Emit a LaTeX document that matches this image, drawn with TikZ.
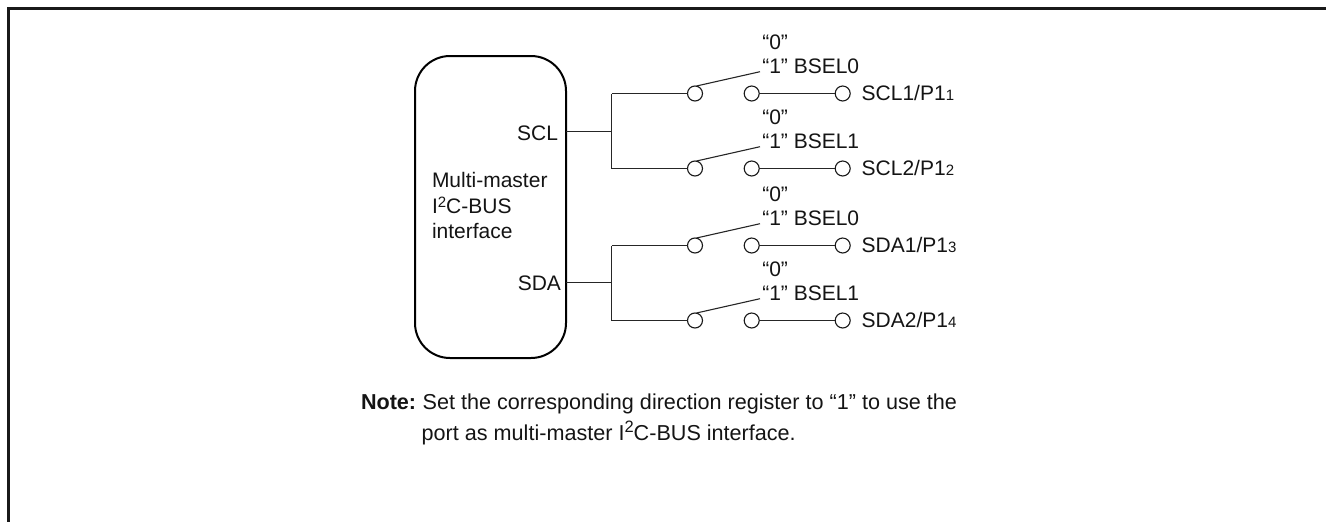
\documentclass[tikz,border=0pt]{standalone}
\usepackage{fontspec}
\setmainfont{Liberation Sans}
\tikzset{
  txt/.style={anchor=base west,inner sep=0pt,outer sep=0pt,font=\fontsize{21}{24}\selectfont,text=black!92},
  txr/.style={anchor=base east,inner sep=0pt,outer sep=0pt,font=\fontsize{21}{24}\selectfont,text=black!92},
  notetxt/.style={txt,font=\fontsize{21.6}{26}\selectfont},
  term/.style={circle,draw=black!90,line width=1.1pt,fill=white,minimum size=15pt,inner sep=0pt,outer sep=0pt},
  wire/.style={draw=black!85,line width=1.2pt},
  frameline/.style={draw=black!90,line width=3pt},
}
\newcommand{\supsc}[3]{\raisebox{#2pt}{\fontsize{#1}{#1}\selectfont #3}}
\newcommand{\subsc}[1]{\raisebox{0pt}{\fontsize{15}{15}\selectfont #1}}
\begin{document}
\begin{tikzpicture}[x=1pt,y=-1pt]
\useasboundingbox (0,0) rectangle (1326,522);
% frame
\coordinate (fa) at (8,522); \coordinate (fb) at (8,8); \coordinate (fc) at (1326,8);
\draw[frameline,line join=miter] (fa) -- (fb) -- (fc);
% interface block
\node[draw=black,line width=2pt,rounded corners=35pt,minimum width=151pt,minimum height=302pt,inner sep=0pt,outer sep=0pt] (ifc) at (490.5,207) {};
\node[txr] (scl) at (558,140) {SCL};
\node[txr] (sda) at (561,290) {SDA};
\node[txt] (m1) at (432,187) {Multi-master};
\node[txt] (m2) at (432,213) {I\supsc{15}{6}{2}C-BUS};
\node[txt] (m3) at (432,238) {interface};
% junctions
\coordinate (j1) at (611.5,131.5); \coordinate (j2) at (611.5,282.5);
\coordinate (p1) at (566,131.5); \coordinate (p2) at (566,282.5);
\draw[wire] (p1) -- (j1); \draw[wire] (p2) -- (j2);
% switches
\foreach \n/\y/\sel/\port/\idx/\jn in {a/93.5/0/SCL1/1/j1,b/168.5/1/SCL2/2/j1,c/245.5/0/SDA1/3/j2,d/320.5/1/SDA2/4/j2}{
  \node[term] (\n1) at (695,\y) {};
  \node[term] (\n2) at (751.7,\y) {};
  \node[term] (\n3) at (842.7,\y) {};
  \draw[wire] (\jn |- \n1) -- (\n1.west);
  \draw[wire] (\jn) -- (\jn |- \n1);
  \draw[wire] (\n2.east) -- (\n3.west);
  \coordinate (\n l) at (760,\y-21.8);
  \draw[wire,line width=1.1pt] (\n1.north) ++(1.5,0) -- (\n l);
  \node[txt] (\n z) at (762.3,\y-44) {“0”};
  \node[txt] (\n o) at (762.3,\y-20) {“1” BSEL\sel};
  \node[txt] (\n p) at (861.7,\y+7) {\port/P1\subsc{\idx}};
}
% note
\node[notetxt,font=\fontsize{21.6}{26}\selectfont\bfseries] (nh) at (361,409) {Note:};
\node[notetxt] (n1) at (422.7,409) {Set the corresponding direction register to “1” to use the};
\node[notetxt] (n2) at (421.7,440) {port as multi-master I\supsc{16.5}{8}{2}C-BUS interface.};
\end{tikzpicture}
\end{document}
